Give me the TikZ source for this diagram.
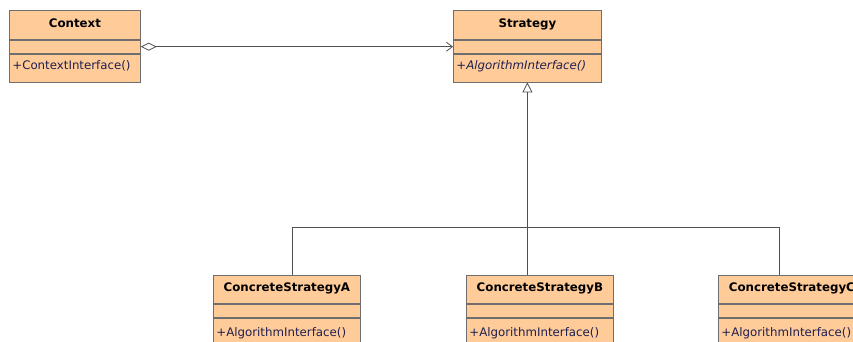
\documentclass[tikz,border=0pt]{standalone}
\usepackage{fontspec}
\setmainfont{DejaVu Sans}
\usetikzlibrary{positioning,arrows.meta}
\definecolor{classfill}{HTML}{FFCC99}
\definecolor{classline}{HTML}{6E6E6E}
\definecolor{methodtext}{HTML}{1F1F4F}
\definecolor{wirecol}{HTML}{505050}
\begin{document}
\begin{tikzpicture}[x=1pt, y=-1pt,
	compartment/.style={draw=classline, fill=classfill, line width=0.8pt, inner sep=0pt},
	classtitle/.style={compartment, anchor=north west, minimum height=29pt, text height=8pt, text depth=3pt, font=\fontsize{11.8}{14}\selectfont\bfseries},
	classattr/.style={compartment, minimum height=13pt},
	classmethod/.style={compartment, inner xsep=3pt, minimum height=28pt, align=left, text height=8pt, text depth=4pt, text=methodtext, font=\fontsize{11.8}{14}\selectfont},
	wire/.style={draw=wirecol, line width=0.8pt}]
	\useasboundingbox (0,0) rectangle (853,342);
	\clip (0,0) rectangle (853,342);
	\fill[white] (0,0) rectangle (853,342);
		\node[classtitle, minimum width=131pt](ctxT) at (9,10){Context};
		\node[classattr, minimum width=131pt, below=0pt of ctxT](ctxA){};
		\node[classmethod, text width=125pt, below=0pt of ctxA](ctxM){+ContextInterface()};
		\node[classtitle, minimum width=148pt](stratT) at (453,10){Strategy};
		\node[classattr, minimum width=148pt, below=0pt of stratT](stratA){};
		\node[classmethod, text width=142pt, below=0pt of stratA](stratM){+\textit{AlgorithmInterface()}};
		\node[classtitle, minimum width=147pt, minimum height=28pt](concAT) at (213,275){ConcreteStrategyA};
		\node[classattr, minimum width=147pt, below=0pt of concAT](concAA){};
		\node[classmethod, text width=141pt, minimum height=32pt, below=0pt of concAA](concAM){+AlgorithmInterface()};
		\node[classtitle, minimum width=147pt, minimum height=28pt](concBT) at (466,275){ConcreteStrategyB};
		\node[classattr, minimum width=147pt, below=0pt of concBT](concBA){};
		\node[classmethod, text width=141pt, minimum height=32pt, below=0pt of concBA](concBM){+AlgorithmInterface()};
		\node[classtitle, minimum width=147pt, minimum height=28pt](concCT) at (718,275){ConcreteStrategyC};
		\node[classattr, minimum width=147pt, below=0pt of concCT](concCA){};
		\node[classmethod, text width=141pt, minimum height=32pt, below=0pt of concCA](concCM){+AlgorithmInterface()};
		\coordinate (busL) at (292,227);
		\coordinate (busR) at (779,227);
		\draw [wire, {Diamond[open, length=16pt, width=8pt]}-{Straight Barb[length=6pt, width=9pt]}] (ctxA.east) -- (stratA.west);
		\draw [wire, -{Triangle[open, length=10pt, width=10pt]}] (stratM.south |- concBT.north) -- (stratM.south);
		\draw [wire] (busL |- concAT.north) -- (busL) -- (busR) -- (busR |- concCT.north);
	\end{tikzpicture}
\end{document}
